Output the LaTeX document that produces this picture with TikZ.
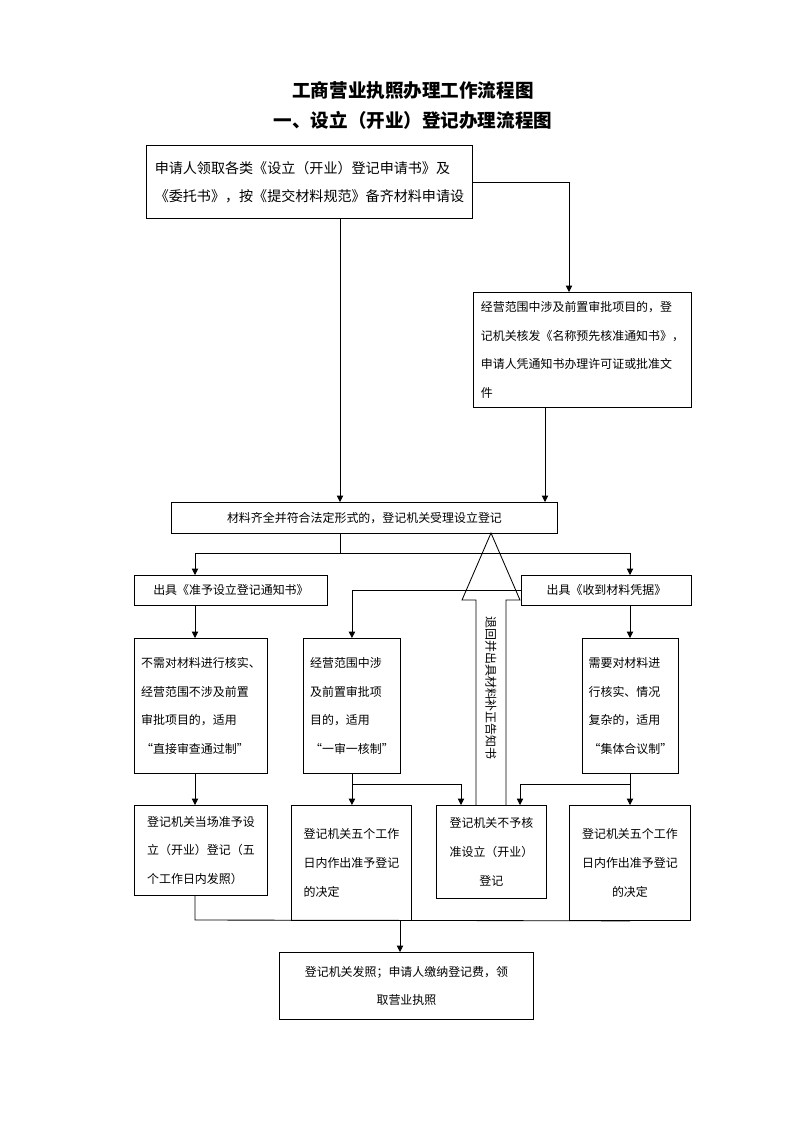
\documentclass[tikz,border=0pt]{standalone}
\usepackage{fontspec}
\newfontfamily\cjk{Noto Sans CJK SC}
\usetikzlibrary{arrows.meta,positioning}

\begin{document}
\begin{tikzpicture}[x=0.025cm, y=-0.025cm, >={Triangle[length=4.5pt,width=4.5pt]}, line width=0.6pt,
    box/.style={draw, anchor=north west, inner sep=0pt, align=left, font=\cjk\fontsize{8.5pt}{20.5pt}\selectfont},
    ttl/.style={font=\cjk\bfseries\fontsize{13.2pt}{16pt}\selectfont}]
        \useasboundingbox (0,0) rectangle (800,1132);

        % Titles
        \node[ttl] (title) at (413,90) {工商营业执照办理工作流程图};
        \node[ttl] (subtitle) at (413,120) {一、设立（开业）登记办理流程图};

        % Application
        \node[box, minimum width=8.15cm, minimum height=1.825cm, font=\cjk\fontsize{10pt}{20pt}\selectfont] (apply) at (146,145) {申请人领取各类《设立（开业）登记申请书》及\\《委托书》，按《提交材料规范》备齐材料申请设};

        % Pre-approval
        \node[box, minimum width=5.45cm, minimum height=2.875cm] (scope) at (473,292) {经营范围中涉及前置审批项目的，登\\记机关核发《名称预先核准通知书》，\\申请人凭通知书办理许可证或批准文\\件};

        % Acceptance
        \node[box, minimum width=9.65cm, minimum height=0.775cm] (accept) at (171,502) {材料齐全并符合法定形式的，登记机关受理设立登记};

        % Notices
        \node[box, minimum width=4.825cm, minimum height=0.75cm] (grant) at (134,575) {出具《准予设立登记通知书》};
        \node[box, minimum width=4.25cm, minimum height=0.75cm] (receipt) at (521,575) {出具《收到材料凭据》};

        % Review modes
        \node[box, minimum width=3.325cm, minimum height=3.375cm] (direct) at (134,638) {不需对材料进行核实、\\经营范围不涉及前置\\审批项目的，适用\\“直接审查通过制”};
        \node[box, minimum width=2.425cm, minimum height=3.375cm] (single) at (303,638) {经营范围中涉\\及前置审批项\\目的，适用\\“一审一核制”};
        \node[box, minimum width=2.4cm, minimum height=3.375cm] (collective) at (582,638) {需要对材料进\\行核实、情况\\复杂的，适用\\“集体合议制”};

        % Decisions
        \node[box, minimum width=3.325cm, minimum height=2.25cm] (onsite) at (134,805) {登记机关当场准予设\\立（开业）登记（五\\个工作日内发照）};
        \node[box, minimum width=3cm, minimum height=2.875cm] (fivedayA) at (291,805) {登记机关五个工作\\日内作出准予登记\\的决定};
        \node[box, minimum width=2.75cm, minimum height=2.325cm, align=center] (refuse) at (436,805) {登记机关不予核\\准设立（开业）\\登记};
        \node[box, minimum width=3.025cm, minimum height=2.875cm, align=center] (fivedayB) at (569,805) {登记机关五个工作\\日内作出准予登记\\的决定};

        % License
        \node[box, minimum width=6.35cm, minimum height=1.675cm, align=center] (license) at (279,952) {登记机关发照；申请人缴纳登记费，领\\取营业执照};

        % Columns and joints
        \coordinate (split) at (340,553);
        \coordinate (lcol) at (195,0);
        \coordinate (rcol) at (630,0);
        \coordinate (scol) at (569,0);
        \coordinate (pcol) at (545,0);
        \coordinate (jl) at (352,784);
        \coordinate (jr) at (630,784);
        \coordinate (rl) at (461,0);
        \coordinate (rr) at (520,0);
        \coordinate (merge) at (400,920);

        % Arrows
        \draw[->] (apply.south -| split) -- (accept.north -| split);
        \draw[->] (apply.east) -| (scope.north -| scol);
        \draw[->] (scope.south -| pcol) -- (accept.north -| pcol);
        \draw (accept.south -| split) -- (split);
        \draw[->] (split) -| (grant.north -| lcol);
        \draw[->] (split) -| (receipt.north -| rcol);
        \draw[->] (receipt.west) -| (single.north);
        \draw[->] (grant.south -| lcol) -- (direct.north -| lcol);
        \draw[->] (receipt.south -| rcol) -- (collective.north -| rcol);
        \draw[->] (direct.south -| lcol) -- (onsite.north -| lcol);
        \draw[->] (single.south) -- (fivedayA.north -| single.south);
        \draw[->] (jl) -| (refuse.north -| rl);
        \draw[->] (collective.south -| rcol) -- (fivedayB.north -| rcol);
        \draw[->] (jr) -| (refuse.north -| rr);
        \draw (onsite.south -| lcol) -- (lcol |- merge) -- (fivedayB.south -| rcol);
        \draw[->] (merge) -- (license.north -| merge);

        % Return notice (hollow arrow)
        \coordinate (tip) at (491,533);
        \coordinate (sl) at (476,600);
        \coordinate (sr) at (506,600);
        \draw (refuse.north -| sl) -- (sl) -- (462,600) -- (tip) -- (520,600) -- (sr) -- (refuse.north -| sr);
        \node[font=\cjk\fontsize{8.5pt}{10pt}\selectfont, rotate=-90] (backnote) at (491,688) {退回并出具材料补正告知书};
    \end{tikzpicture}
\end{document}
